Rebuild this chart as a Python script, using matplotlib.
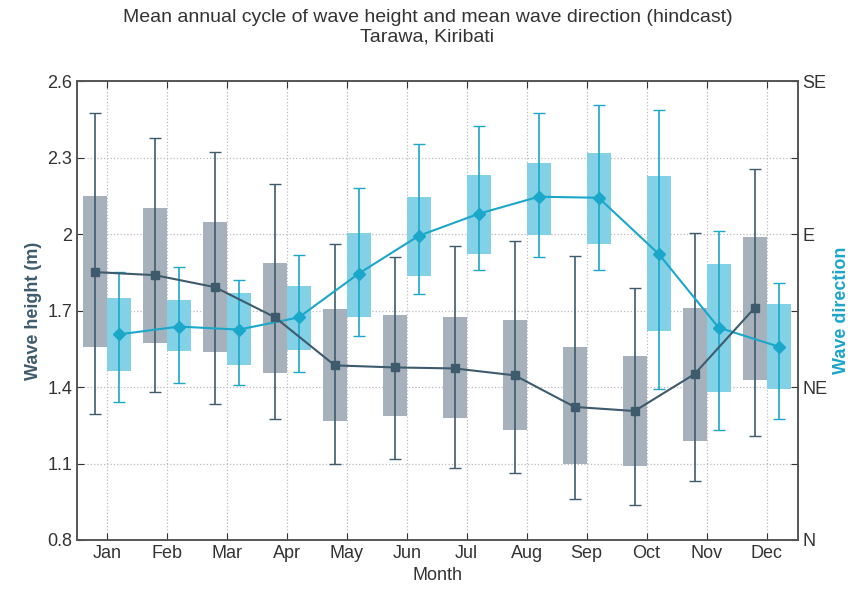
import numpy as np
import matplotlib.pyplot as plt

plt.rcParams['font.family'] = ['Liberation Sans', 'DejaVu Sans']

months = ['Jan', 'Feb', 'Mar', 'Apr', 'May', 'Jun', 'Jul', 'Aug', 'Sep', 'Oct', 'Nov', 'Dec']

# wave height (m)
hs_mean = [1.851, 1.839, 1.792, 1.674, 1.485, 1.477, 1.473, 1.446, 1.322, 1.306, 1.451, 1.710]
hs_box_hi = [2.149, 2.102, 2.047, 1.886, 1.708, 1.684, 1.673, 1.665, 1.557, 1.522, 1.710, 1.988]
hs_box_lo = [1.557, 1.573, 1.537, 1.455, 1.266, 1.285, 1.278, 1.230, 1.098, 1.090, 1.188, 1.427]
hs_wh_hi = [2.474, 2.376, 2.322, 2.196, 1.962, 1.910, 1.954, 1.974, 1.914, 1.788, 2.004, 2.255]
hs_wh_lo = [1.294, 1.380, 1.333, 1.275, 1.100, 1.117, 1.082, 1.062, 0.961, 0.937, 1.031, 1.208]

# mean wave direction (degrees, N=0)
dir_mean = [60.5, 62.8, 61.9, 65.5, 78.4, 89.5, 96.0, 101.0, 100.7, 84.2, 62.5, 56.9]
dir_box_hi = [71.3, 70.7, 72.8, 74.8, 90.4, 101.0, 107.4, 111.0, 113.9, 107.1, 81.3, 69.3]
dir_box_lo = [49.6, 55.5, 51.4, 56.0, 65.7, 77.8, 84.2, 89.8, 87.2, 61.6, 43.4, 44.3]
dir_wh_hi = [79.0, 80.4, 76.6, 83.9, 103.6, 116.5, 121.8, 125.6, 128.0, 126.5, 91.0, 75.7]
dir_wh_lo = [40.5, 46.1, 45.5, 49.3, 59.9, 72.5, 79.5, 83.4, 79.5, 44.3, 32.3, 35.5]

grey_box = '#a6b1bb'
grey_line = '#3e5b6d'
cyan_box = '#82d1e7'
cyan_line = '#1ba7ca'

x = np.arange(12)
off = 0.2
w = 0.4

fig = plt.figure(figsize=(8.55, 5.97), dpi=100)
ax = fig.add_axes([0.090, 0.0955, 0.843, 0.7685])
ax2 = ax.twinx()

hs_mean = np.array(hs_mean)
ax.bar(x - off, np.array(hs_box_hi) - np.array(hs_box_lo), bottom=hs_box_lo, width=w,
       color=grey_box, zorder=2)
ax.errorbar(x - off, hs_mean, yerr=[hs_mean - np.array(hs_wh_lo), np.array(hs_wh_hi) - hs_mean],
            fmt='none', ecolor=grey_line, elinewidth=1.2, capsize=4, zorder=3)

dir_mean = np.array(dir_mean)
ax2.bar(x + off, np.array(dir_box_hi) - np.array(dir_box_lo), bottom=dir_box_lo, width=w,
        color=cyan_box, zorder=2)
ax2.errorbar(x + off, dir_mean, yerr=[dir_mean - np.array(dir_wh_lo), np.array(dir_wh_hi) - dir_mean],
             fmt='none', ecolor=cyan_line, elinewidth=1.2, capsize=4, zorder=3)
ax2.plot(x + off, dir_mean, color=cyan_line, marker='D', ms=6, lw=1.5, zorder=5)
# height mean line drawn on top of the direction boxes (ax transform)
ax2.plot(x - off, hs_mean, color=grey_line, marker='s', ms=6, lw=1.5, zorder=6,
         transform=ax.transData)

ax.set_xlim(-0.5, 11.52)
ax.set_ylim(0.8, 2.6)
ax.set_yticks([0.8, 1.1, 1.4, 1.7, 2.0, 2.3, 2.6])
ax.set_yticklabels(['0.8', '1.1', '1.4', '1.7', '2', '2.3', '2.6'])
ax.set_xticks(x)
ax.set_xticklabels(months)
ax2.set_ylim(0, 135)
ax2.set_yticks([0, 22.5, 45, 67.5, 90, 112.5, 135])
ax2.set_yticklabels(['N', '', 'NE', '', 'E', '', 'SE'])

ax.grid(True, ls=':', color='#bbbbbb', lw=0.9, zorder=0)
ax.set_axisbelow(True)
ax.tick_params(direction='in', top=True, labelsize=13, colors='#333333', length=5)
ax2.tick_params(direction='in', labelsize=13, colors='#333333', length=5)
for a in (ax, ax2):
    for s in a.spines.values():
        s.set_color('#555555')
        s.set_linewidth(1.2)

ax.set_xlabel('Month', fontsize=13, color='#333333')
ax.set_ylabel('Wave height (m)', fontsize=13, color=grey_line, fontweight='bold')
ax2.set_ylabel('Wave direction', fontsize=13, color=cyan_line, fontweight='bold')
fig.suptitle('Mean annual cycle of wave height and mean wave direction (hindcast)\nTarawa, Kiribati',
             fontsize=14, color='#333333', y=0.985)

fig.savefig('out.png', dpi=100)
